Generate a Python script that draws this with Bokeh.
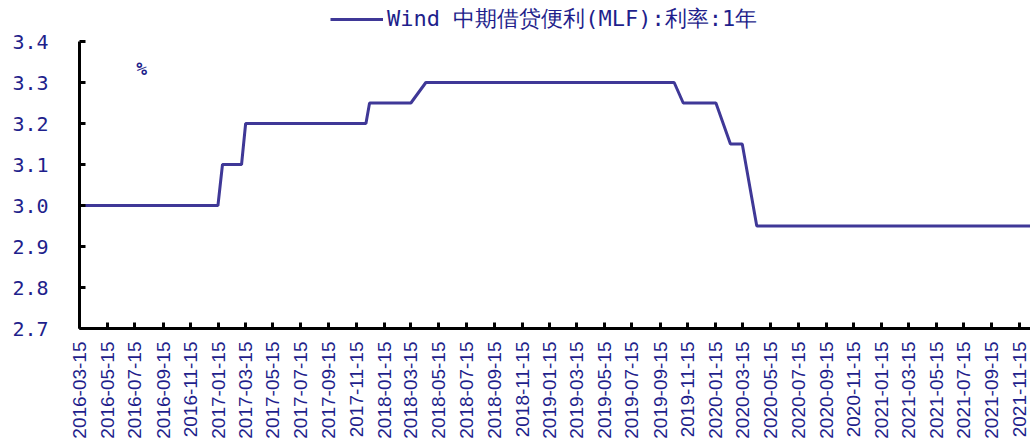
import math
import pandas as pd
from bokeh.plotting import figure
from bokeh.models import (Legend, LegendItem, FixedTicker, DatetimeTickFormatter,
                          PrintfTickFormatter, Label, Range1d)
from bokeh.embed import file_html
from bokeh.resources import INLINE

# ---- data ----
obs_dates = ["2016-03-15", "2017-01-14", "2017-01-24", "2017-03-07", "2017-03-16",
             "2017-12-06", "2017-12-14", "2018-03-15", "2018-04-17", "2019-10-16",
             "2019-11-05", "2020-01-16", "2020-02-17", "2020-03-14", "2020-04-15",
             "2021-12-15"]
mlf_rate = [3.00, 3.00, 3.10, 3.10, 3.20,
            3.20, 3.25, 3.25, 3.30, 3.30,
            3.25, 3.25, 3.15, 3.15, 2.95,
            2.95]
series_name = "Wind 中期借贷便利(MLF):利率:1年"
y_ticks = [2.7, 2.8, 2.9, 3.0, 3.1, 3.2, 3.3, 3.4]
x_tick_labels = [f"{y}-{m:02d}-15" for y in range(2016, 2022) for m in range(1, 13, 2)
                 if "2016-03-15" <= f"{y}-{m:02d}-15" <= "2021-11-15"]

NAVY = "#1F1F8C"
LINE = "#3F3897"

x = pd.to_datetime(obs_dates)
x_ticks_ms = [pd.Timestamp(d).value / 1e6 for d in x_tick_labels]
x_start = pd.Timestamp("2016-03-15").value / 1e6
x_end = pd.Timestamp("2021-12-09").value / 1e6

# frame spans the full height above the x axis; the extra 0.1 on top holds the legend
p = figure(width=1030, height=446, x_axis_type="datetime",
           output_backend="svg", toolbar_location=None,
           x_range=Range1d(x_start, x_end),
           y_range=Range1d(2.7, 3.5),
           min_border_left=79, min_border_right=0, min_border_top=0,
           min_border_bottom=118)
p.outline_line_color = None
p.xgrid.visible = False
p.ygrid.visible = False
p.background_fill_color = "white"
p.border_fill_color = "white"

r = p.line(x, mlf_rate, line_width=3, line_color=LINE)

# axes
for ax in (p.xaxis[0], p.yaxis[0]):
    ax.axis_line_color = "black"
    ax.axis_line_width = 3
    ax.major_tick_line_color = "black"
    ax.major_tick_line_width = 3
    ax.major_tick_in = 6
    ax.major_tick_out = 0
    ax.minor_tick_line_color = None
    ax.major_label_text_color = NAVY

p.yaxis.bounds = (2.7, 3.4)
p.yaxis.ticker = FixedTicker(ticks=y_ticks)
p.yaxis.formatter = PrintfTickFormatter(format="%.1f")
p.yaxis.major_label_text_font = "DejaVu Sans Mono"
p.yaxis.major_label_text_font_size = "20px"
p.yaxis.major_label_standoff = 31

p.xaxis.ticker = FixedTicker(ticks=x_ticks_ms)
fmt = "%Y-%m-%d"
p.xaxis.formatter = DatetimeTickFormatter(milliseconds=fmt, seconds=fmt, minsec=fmt,
                                          minutes=fmt, hourmin=fmt, hours=fmt, days=fmt,
                                          months=fmt, years=fmt)
p.xaxis.major_label_orientation = math.pi / 2
p.xaxis.major_label_text_font = "Liberation Sans"
p.xaxis.major_label_text_font_size = "19px"
p.xaxis.major_label_standoff = 13

# legend at the top of the frame
legend = Legend(items=[LegendItem(label=series_name, renderers=[r])],
                location=(246, 289), orientation="horizontal",
                glyph_width=53, glyph_height=20, label_standoff=4,
                padding=5, margin=0, border_line_alpha=0, background_fill_alpha=0,
                label_text_font="DejaVu Sans Mono", label_text_font_size="22px",
                label_text_color=NAVY)
p.add_layout(legend, "center")

# unit label
p.add_layout(Label(x=pd.Timestamp("2016-07-30").value / 1e6, y=3.333, text="%",
                   text_font="DejaVu Sans Mono", text_font_size="18px",
                   text_font_style="bold", text_color=NAVY,
                   text_align="center", text_baseline="middle"))

open("out.html", "w").write(file_html(p, INLINE))
